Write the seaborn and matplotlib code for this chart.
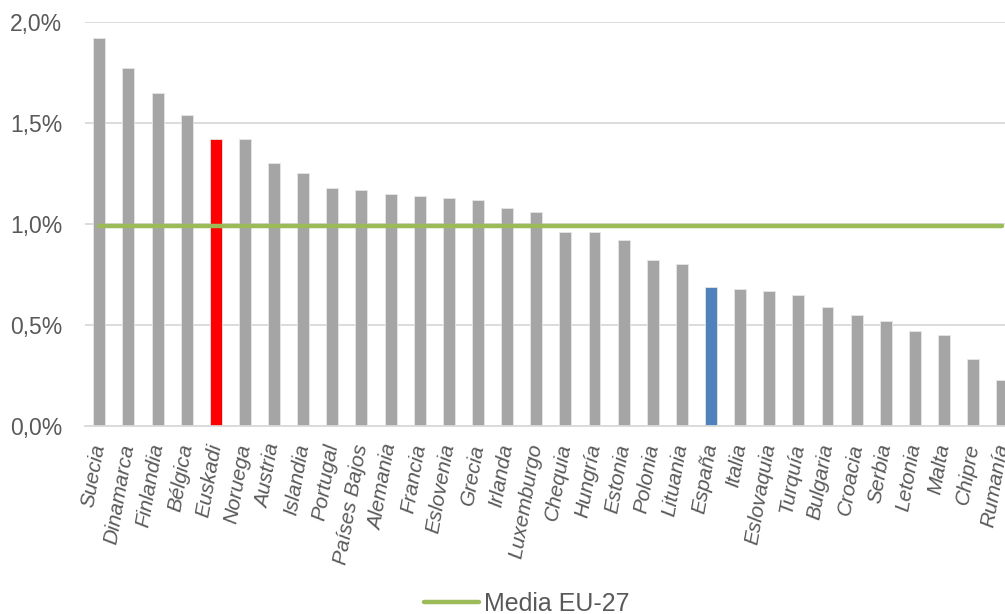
import matplotlib
matplotlib.use("Agg")
import matplotlib.pyplot as plt
from matplotlib.ticker import FuncFormatter
from matplotlib.lines import Line2D
import seaborn as sns
import pandas as pd

paises = ["Suecia", "Dinamarca", "Finlandia", "Bélgica", "Euskadi", "Noruega",
          "Austria", "Islandia", "Portugal", "Países Bajos", "Alemania", "Francia",
          "Eslovenia", "Grecia", "Irlanda", "Luxemburgo", "Chequia", "Hungría",
          "Estonia", "Polonia", "Lituania", "España", "Italia", "Eslovaquia",
          "Turquía", "Bulgaria", "Croacia", "Serbia", "Letonia", "Malta",
          "Chipre", "Rumanía"]
valores = [1.92, 1.77, 1.65, 1.54, 1.42, 1.42, 1.30, 1.25, 1.18, 1.17, 1.15, 1.14,
           1.13, 1.12, 1.08, 1.06, 0.96, 0.96, 0.92, 0.82, 0.80, 0.69, 0.68, 0.67,
           0.65, 0.59, 0.55, 0.52, 0.47, 0.45, 0.33, 0.23]
media_eu27 = 0.99
destacados = {"Euskadi": "#FF0000", "España": "#4F81BD"}

GRIS = "#A5A5A5"
VERDE = "#9BBB59"
TEXTO = "#595959"

df = pd.DataFrame({"pais": paises, "valor": valores})
df["media"] = media_eu27
paleta = {p: destacados.get(p, GRIS) for p in paises}

sns.set_style("white")
plt.rcParams["font.family"] = ["Liberation Sans", "DejaVu Sans"]

fig = plt.figure(figsize=(10.05, 6.14), dpi=100)
ax = fig.add_axes([0.0843, 0.3062, 0.9275, 0.658])

sns.barplot(data=df, x="pais", y="valor", hue="pais", palette=paleta,
            saturation=1, width=0.41, legend=False, ax=ax, edgecolor="#E6E6E6",
            linewidth=0.6, zorder=2)
sns.lineplot(data=df, x="pais", y="media", color=VERDE, linewidth=3.2,
             ax=ax, zorder=3, legend=False)

ax.set_xlim(-0.5, len(paises) - 0.5)
ax.set_ylim(0, 2.0)
ax.set_yticks([0, 0.5, 1.0, 1.5, 2.0])
ax.yaxis.set_major_formatter(FuncFormatter(lambda v, _: f"{v:.1f}%".replace(".", ",")))
ax.grid(axis="y", color="#D9D9D9", linewidth=1.3, zorder=0)
ax.set_axisbelow(True)
for s in ["left", "right", "top"]:
    ax.spines[s].set_visible(False)
ax.spines["bottom"].set_color("#D9D9D9")
ax.spines["bottom"].set_linewidth(1.3)
ax.set_xlabel("")
ax.set_ylabel("")

ax.tick_params(axis="y", length=0, pad=16, labelsize=16.5, labelcolor=TEXTO)
ax.tick_params(axis="x", length=0, pad=13, labelsize=15, labelcolor=TEXTO)
for lbl in ax.get_xticklabels():
    lbl.set_rotation(80)
    lbl.set_rotation_mode("anchor")
    lbl.set_ha("right")
    lbl.set_va("center")
    lbl.set_style("italic")

handle = Line2D([], [], color=VERDE, linewidth=3.2)
fig.legend([handle], ["Media EU-27"], loc="center", bbox_to_anchor=(0.524, 0.017),
           frameon=False, fontsize=18, handlelength=2.2, handletextpad=0.2,
           labelcolor=TEXTO)

fig.savefig("out.png", dpi=100)
